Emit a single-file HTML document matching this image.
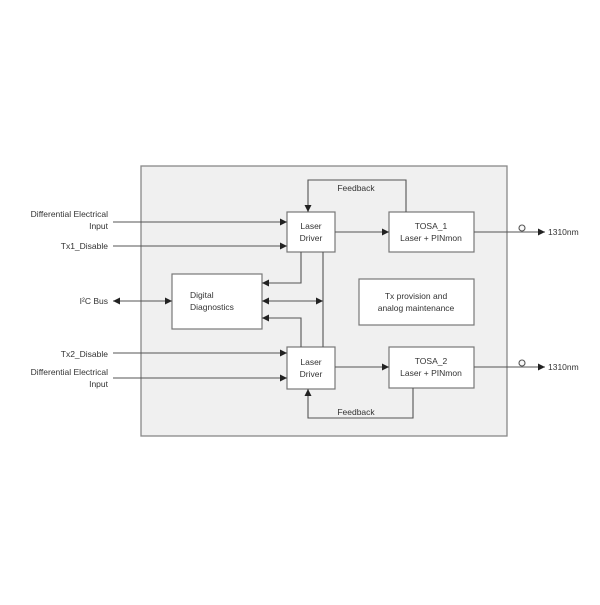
<!DOCTYPE html>
<html><head><style>body{margin:0;background:#fff}</style></head><body>
<svg width="600" height="600" viewBox="0 0 600 600" xmlns="http://www.w3.org/2000/svg" font-family="Liberation Sans, sans-serif" font-size="8.5" fill="#333">
<defs><marker id="a" viewBox="0 0 10 10" refX="10" refY="5" markerWidth="10" markerHeight="7" orient="auto-start-reverse" markerUnits="userSpaceOnUse"><path d="M0,0L10,5L0,10z" fill="#222"/></marker></defs>
<rect x="141" y="166" width="366" height="270" fill="#f0f0f0" stroke="#888" stroke-width="1.3"/>
<g fill="#fff" stroke="#777" stroke-width="1.2">
<rect x="287" y="212" width="48" height="40"/>
<rect x="287" y="347" width="48" height="42"/>
<rect x="172" y="274" width="90" height="55"/>
<rect x="389" y="212" width="85" height="40"/>
<rect x="389" y="347" width="85" height="41"/>
<rect x="359" y="279" width="115" height="46"/>
</g>
<g stroke="#555" stroke-width="1.1" fill="none">
<line x1="113" y1="222" x2="287" y2="222" marker-end="url(#a)"/>
<line x1="113" y1="246" x2="287" y2="246" marker-end="url(#a)"/>
<line x1="113" y1="353" x2="287" y2="353" marker-end="url(#a)"/>
<line x1="113" y1="378" x2="287" y2="378" marker-end="url(#a)"/>
<line x1="113" y1="301" x2="172" y2="301" marker-start="url(#a)" marker-end="url(#a)"/>
<polyline points="406,212 406,180 308,180 308,212" marker-end="url(#a)"/>
<polyline points="413,388 413,418 308,418 308,389" marker-end="url(#a)"/>
<line x1="335" y1="232" x2="389" y2="232" marker-end="url(#a)"/>
<line x1="335" y1="367" x2="389" y2="367" marker-end="url(#a)"/>
<polyline points="301,252 301,283 262,283" marker-end="url(#a)"/>
<polyline points="301,347 301,318 262,318" marker-end="url(#a)"/>
<line x1="323" y1="252" x2="323" y2="347"/>
<line x1="262" y1="301" x2="323" y2="301" marker-start="url(#a)" marker-end="url(#a)"/>
<line x1="474" y1="232" x2="545" y2="232" marker-end="url(#a)"/>
<line x1="474" y1="367" x2="545" y2="367" marker-end="url(#a)"/>
<circle cx="522" cy="228" r="3" fill="#f8f8f8"/>
<circle cx="522" cy="363" r="3" fill="#f8f8f8"/>
</g>
<g text-anchor="end">
<text x="108" y="217">Differential Electrical</text>
<text x="108" y="229">Input</text>
<text x="108" y="249">Tx1_Disable</text>
<text x="108" y="304">I²C Bus</text>
<text x="108" y="357">Tx2_Disable</text>
<text x="108" y="375">Differential Electrical</text>
<text x="108" y="387">Input</text>
</g>
<g text-anchor="middle">
<text x="311" y="229">Laser</text><text x="311" y="241">Driver</text>
<text x="311" y="365">Laser</text><text x="311" y="377">Driver</text>
<text x="431" y="229">TOSA_1</text><text x="431" y="241">Laser + PINmon</text>
<text x="431" y="364">TOSA_2</text><text x="431" y="376">Laser + PINmon</text>
<text x="416" y="299">Tx provision and</text><text x="416" y="311">analog maintenance</text>
<text x="356" y="191">Feedback</text>
<text x="356" y="415">Feedback</text>
</g>
<text x="190" y="298">Digital</text><text x="190" y="310">Diagnostics</text>
<text x="548" y="235">1310nm</text>
<text x="548" y="370">1310nm</text>
</svg>
</body></html>
